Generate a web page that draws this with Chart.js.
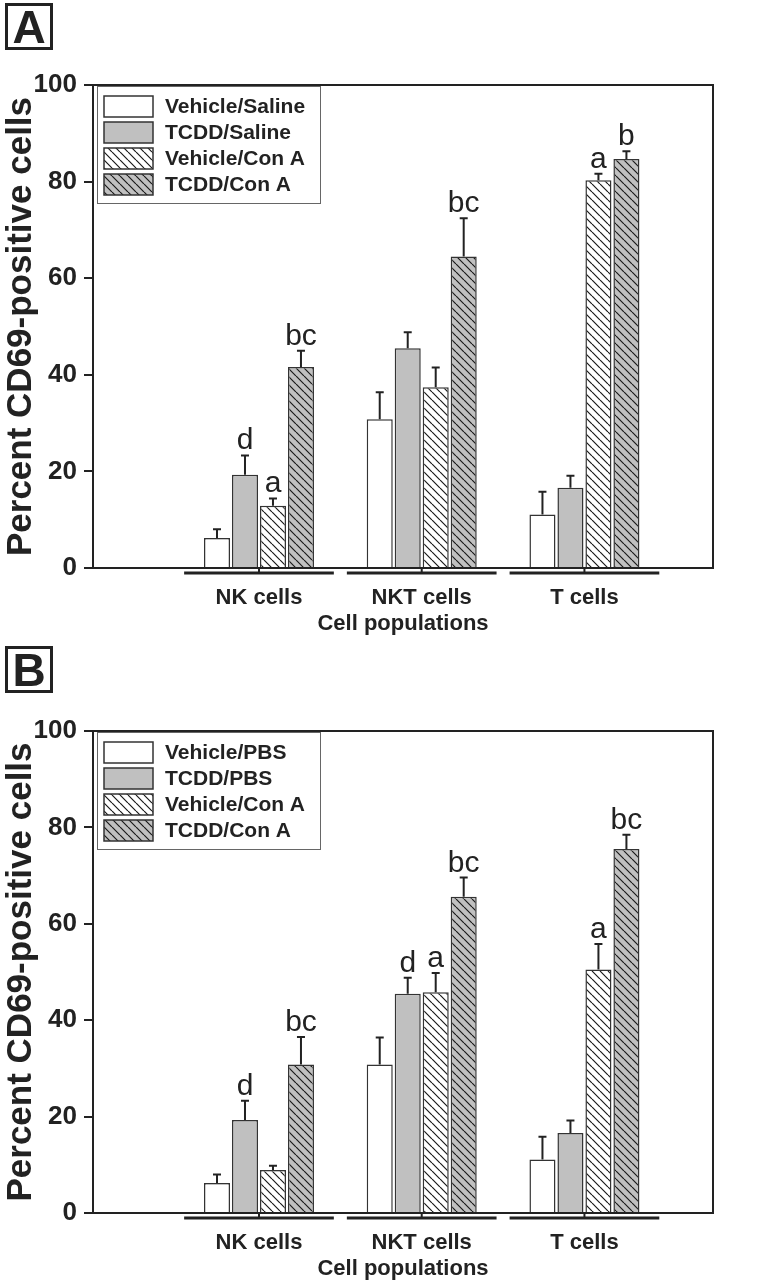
<!DOCTYPE html>
<html><head><meta charset="utf-8">
<script src="https://cdn.jsdelivr.net/npm/chart.js@4.4.1/dist/chart.umd.min.js"></script>
<style>
html,body{margin:0;padding:0;background:#fff;}
#wrap{position:relative;width:760px;height:1281px;background:#fff;}
canvas{position:absolute;left:0;}
</style></head><body>
<div id="wrap">
<canvas id="cA" width="760" height="645" style="top:0px"></canvas>
<canvas id="cB" width="760" height="638" style="top:643px"></canvas>
</div>
<script>
// ---- data ----
const categories = ['NK cells', 'NKT cells', 'T cells'];
const yTicks = [0, 20, 40, 60, 80, 100];
const xTitle = 'Cell populations';
const yTitle = 'Percent CD69-positive cells';

// Panel A
const labelsA = ['Vehicle/Saline', 'TCDD/Saline', 'Vehicle/Con A', 'TCDD/Con A'];
const vehSaline = [6.2, 30.8, 11.1];
const vehSalineErr = [1.8, 5.6, 4.7];
const tcddSaline = [19.3, 45.5, 16.6];
const tcddSalineErr = [4.0, 3.3, 2.5];
const vehConA_A = [12.9, 37.4, 80.3];
const vehConA_AErr = [1.5, 4.1, 1.3];
const tcddConA_A = [41.6, 64.5, 84.7];
const tcddConA_AErr = [3.4, 7.9, 1.6];
const lettersA = [['', '', ''], ['d', '', ''], ['a', '', 'a'], ['bc', 'bc', 'b']];

// Panel B
const labelsB = ['Vehicle/PBS', 'TCDD/PBS', 'Vehicle/Con A', 'TCDD/Con A'];
const vehPBS = [6.2, 30.8, 11.1];
const vehPBSErr = [1.8, 5.6, 4.7];
const tcddPBS = [19.3, 45.5, 16.6];
const tcddPBSErr = [4.0, 3.3, 2.6];
const vehConA_B = [8.9, 45.8, 50.5];
const vehConA_BErr = [0.9, 4.0, 5.3];
const tcddConA_B = [30.8, 65.6, 75.5];
const tcddConA_BErr = [5.7, 4.0, 3.0];
const lettersB = [['', '', ''], ['d', 'd', ''], ['', 'a', 'a'], ['bc', 'bc', 'bc']];

// ---- styling ----
const FONT = "'Liberation Sans', Arial, Helvetica, sans-serif";
const INK = '#222';
const GRAY = '#c0c0c0';

function hatch(bg) {
  const s = 8;
  const c = document.createElement('canvas');
  c.width = s; c.height = s;
  const g = c.getContext('2d');
  g.fillStyle = bg; g.fillRect(0, 0, s, s);
  g.strokeStyle = '#1a1a1a'; g.lineWidth = 1.2;
  g.beginPath();
  for (const o of [-s, 0, s]) { g.moveTo(o, 0); g.lineTo(o + s, s); }
  g.stroke();
  return c.getContext('2d').createPattern(c, 'repeat');
}
const fills = ['#ffffff', GRAY, hatch('#ffffff'), hatch(GRAY)];

function toPts(arr) { return arr.map((v, i) => ({ x: i + 1, y: v })); }

function makeDatasets(labels, vals, errs, letters) {
  return labels.map((lab, i) => ({
    label: lab,
    data: toPts(vals[i]),
    err: errs[i],
    letters: letters[i],
    backgroundColor: fills[i],
    borderColor: '#333',
    borderWidth: 1.5,
    categoryPercentage: 0.688,
    barPercentage: 0.93
  }));
}

function line(ctx, x1, y1, x2, y2) { ctx.beginPath(); ctx.moveTo(x1, y1); ctx.lineTo(x2, y2); ctx.stroke(); }

const decor = {
  id: 'decor',
  afterDraw(chart, args, opts) {
    const { ctx, chartArea: a, scales: { x, y } } = chart;
    ctx.save();
    // error bars and letters
    chart.data.datasets.forEach((ds, di) => {
      const meta = chart.getDatasetMeta(di);
      meta.data.forEach((bar, j) => {
        const v = ds.data[j].y, e = ds.err[j];
        const yt = y.getPixelForValue(v + e);
        ctx.strokeStyle = INK; ctx.lineWidth = 2;
        ctx.beginPath();
        ctx.moveTo(bar.x, bar.y); ctx.lineTo(bar.x, yt);
        ctx.moveTo(bar.x - 4, yt); ctx.lineTo(bar.x + 4, yt);
        ctx.stroke();
        if (ds.letters[j]) {
          ctx.fillStyle = INK; ctx.font = `30px ${FONT}`;
          ctx.textAlign = 'center'; ctx.textBaseline = 'alphabetic';
          ctx.fillText(ds.letters[j], bar.x, yt - 6);
        }
      });
    });
    // frame
    ctx.strokeStyle = INK; ctx.lineWidth = 2;
    ctx.strokeRect(a.left, a.top, a.right - a.left, a.bottom - a.top);
    // category ticks and underlines
    const unit = x.getPixelForValue(2) - x.getPixelForValue(1);
    categories.forEach((c, i) => {
      const px = x.getPixelForValue(i + 1);
      ctx.strokeStyle = INK;
      ctx.lineWidth = 2; line(ctx, px, a.bottom, px, a.bottom + 6);
      ctx.lineWidth = 3; line(ctx, px - 0.46 * unit, a.bottom + 5, px + 0.46 * unit, a.bottom + 5);
    });
    // legend box
    const L = a.left + 4, T = a.top + 1, W = 223, H = 117;
    ctx.fillStyle = '#fff'; ctx.fillRect(L, T, W, H);
    ctx.strokeStyle = '#666'; ctx.lineWidth = 1; ctx.strokeRect(L + 0.5, T + 0.5, W, H);
    chart.data.datasets.forEach((ds, i) => {
      const sy = T + 10 + i * 26;
      ctx.fillStyle = ds.backgroundColor; ctx.fillRect(L + 7, sy, 49, 21);
      ctx.strokeStyle = '#333'; ctx.lineWidth = 1.5; ctx.strokeRect(L + 7, sy, 49, 21);
      ctx.fillStyle = INK; ctx.font = `bold 21px ${FONT}`;
      ctx.textAlign = 'left'; ctx.textBaseline = 'middle';
      ctx.fillText(ds.label, L + 68, sy + 11);
    });
    // panel letter
    ctx.strokeStyle = INK; ctx.lineWidth = 3;
    ctx.strokeRect(6.5, 4.5, 45, 44);
    ctx.fillStyle = INK; ctx.font = `bold 46px ${FONT}`;
    ctx.textAlign = 'center'; ctx.textBaseline = 'alphabetic';
    ctx.fillText(opts.letter, 29, 43);
    ctx.restore();
  }
};

function makeChart(id, letter, datasets, padTop, padBottom) {
  return new Chart(document.getElementById(id), {
    type: 'bar',
    data: { datasets },
    plugins: [decor],
    options: {
      responsive: false, animation: false, devicePixelRatio: 1,
      layout: { padding: { left: 0, right: 47, top: padTop, bottom: padBottom } },
      plugins: { legend: { display: false }, tooltip: { enabled: false }, decor: { letter } },
      scales: {
        x: {
          type: 'linear', min: -0.02, max: 3.79, offset: false,
          grid: { display: false, drawTicks: false }, border: { display: false },
          afterBuildTicks(s) { s.ticks = categories.map((c, i) => ({ value: i + 1 })); },
          ticks: { padding: 19, color: INK, maxRotation: 0, autoSkip: false,
            font: { family: FONT, size: 22, weight: 'bold', lineHeight: 1 },
            callback: (v) => categories[v - 1] },
          title: { display: true, text: xTitle, color: INK,
            font: { family: FONT, size: 22, weight: 'bold', lineHeight: 1 },
            padding: { top: 4, bottom: 0 } },
          afterFit(s) { s.height = 67; }
        },
        y: {
          min: 0, max: 100,
          afterBuildTicks(s) { s.ticks = yTicks.map(v => ({ value: v })); },
          grid: { drawOnChartArea: false, tickLength: 9, color: INK, lineWidth: 2 },
          border: { display: true, color: INK, width: 2 },
          ticks: { padding: 7, color: INK, font: { family: FONT, size: 26, weight: 'bold' } },
          title: { display: true, text: yTitle, color: INK,
            font: { family: FONT, size: 35, weight: 'bold' }, padding: { top: 0, bottom: 0 } },
          afterFit(s) { s.width = 93; }
        }
      }
    }
  });
}

makeChart('cA', 'A',
  makeDatasets(labelsA,
    [vehSaline, tcddSaline, vehConA_A, tcddConA_A],
    [vehSalineErr, tcddSalineErr, vehConA_AErr, tcddConA_AErr], lettersA), 85, 10);
makeChart('cB', 'B',
  makeDatasets(labelsB,
    [vehPBS, tcddPBS, vehConA_B, tcddConA_B],
    [vehPBSErr, tcddPBSErr, vehConA_BErr, tcddConA_BErr], lettersB), 88, 1);
</script>
</body></html>
